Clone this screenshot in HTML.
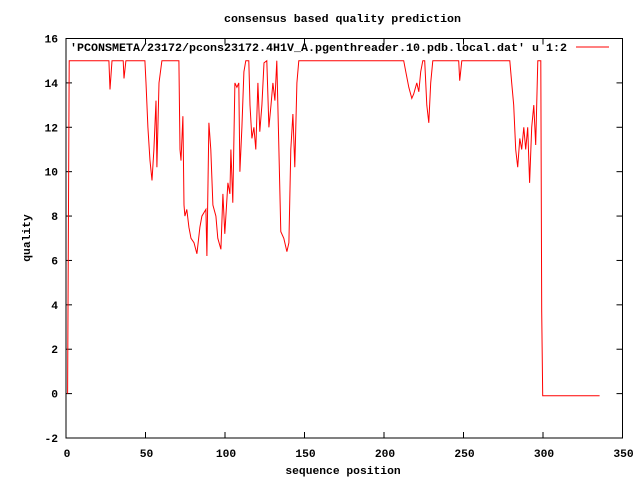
<!DOCTYPE html>
<html><head><meta charset="utf-8"><style>
body{margin:0;background:#fff}
svg text{font-family:"Liberation Mono",monospace;font-weight:bold;font-size:11.3px;fill:#000}
</style></head><body>
<svg id="chart" width="640" height="480" xmlns="http://www.w3.org/2000/svg">
<text x="224" y="22" textLength="237" lengthAdjust="spacingAndGlyphs">consensus based quality prediction</text>
<g id="axes"></g>
<polyline id="series" fill="none" stroke="#f00" stroke-width="1"/>
<text x="70" y="51" textLength="497" lengthAdjust="spacingAndGlyphs">'PCONSMETA/23172/pcons23172.4H1V_A.pgenthreader.10.pdb.local.dat' u 1:2</text>
<line x1="576" y1="47" x2="609" y2="47" stroke="#f00"/>
<text transform="translate(30,238) rotate(-90)" text-anchor="middle">quality</text>
<text x="343" y="474" text-anchor="middle">sequence position</text>
</svg>
<script>
const xTicks=[0,50,100,150,200,250,300,350];
const yTicks=[-2,0,2,4,6,8,10,12,14,16];
const positions=[1,1.5,2,27,27.7,28.9,36,36.5,37.7,49.6,50.3,51.5,52.8,54.1,55.3,56.6,57.2,58.5,60.3,71,71.7,72.3,73.5,74.2,74.8,76,77.3,78.6,80.5,82.3,84.2,85.5,88,88.6,89.9,91.1,92.4,94.3,95.5,97.4,98.7,99.9,101.8,103.1,103.7,104.9,106.2,107.5,108.7,109.4,110.6,111.9,113.1,115,115.7,116.9,118.2,119.4,120.7,121.9,123.2,124.5,126.3,127.6,128.9,130.1,131.4,132.6,133.9,135.1,137,138.9,140.2,141.4,142.7,143.9,145.2,146.4,212.4,213.7,215.6,217.5,218.7,220.6,221.9,223.1,224.4,225.6,226.9,228.2,229.4,230.7,247,247.6,248.9,279.1,280.3,281.6,282.8,284.1,285.4,286.6,287.9,289.1,290.4,291.6,292.9,294.2,295.4,296.7,298.6,299.2,299.8,335.6];
const quality=[0,7.5,15,15,13.7,15,15,14.2,15,15,14,12,10.5,9.6,11,13.2,10.2,14,15,15,11,10.5,12.5,8.5,8,8.3,7.5,7,6.8,6.3,7.5,8,8.3,6.2,12.2,11,8.5,8,7,6.5,9,7.2,9.5,9,11,8.6,14,13.8,14,10,12,14.5,15,15,13,11.5,12,11,14,11.8,13,14.9,15,12,13,14,13.2,15,11,7.3,7,6.4,6.8,11,12.6,10.2,14,15,15,14.5,13.8,13.3,13.5,14,13.6,14.5,15,15,13,12.2,14,15,15,14.1,15,15,14,13,11,10.2,11.5,11,12,11,12,9.5,12,13,11.2,15,15,3.7,-0.1,-0.1];
const L=66,R=622.5,T=38.5,B=438;
const sx=v=>L+(v-0)/350*(R-L);
const sy=v=>B-(v+2)/18*(B-T);
const NS="http://www.w3.org/2000/svg";
const ax=document.getElementById('axes');
function mk(t,a){const e=document.createElementNS(NS,t);for(const k in a)e.setAttribute(k,a[k]);ax.appendChild(e);return e;}
const fr=mk('rect',{x:L,y:T,width:R-L,height:B-T,fill:'none',stroke:'#000'});


xTicks.forEach(v=>{const x=sx(v);
 const t1=mk('line',{x1:x,y1:B,x2:x,y2:B-6,stroke:'#000'});
 
 
 const t2=mk('line',{x1:x,y1:T,x2:x,y2:T+6,stroke:'#000'});
 
 
 const tx=mk('text',{x:x+1,y:B+19,'text-anchor':'middle'});tx.textContent=v;
 
 
});
yTicks.forEach(v=>{const y=sy(v);
 const t1=mk('line',{x1:L,y1:y,x2:L+6,y2:y,stroke:'#000'});
 
 
 const t2=mk('line',{x1:R,y1:y,x2:R-6,y2:y,stroke:'#000'});
 
 
 const tx=mk('text',{x:L-8,y:y+4,'text-anchor':'end'});tx.textContent=v;
 
 
});
document.getElementById('series').setAttribute('points',positions.map((p,i)=>sx(p).toFixed(1)+','+sy(quality[i]).toFixed(1)).join(' '));
</script>
</body></html>
